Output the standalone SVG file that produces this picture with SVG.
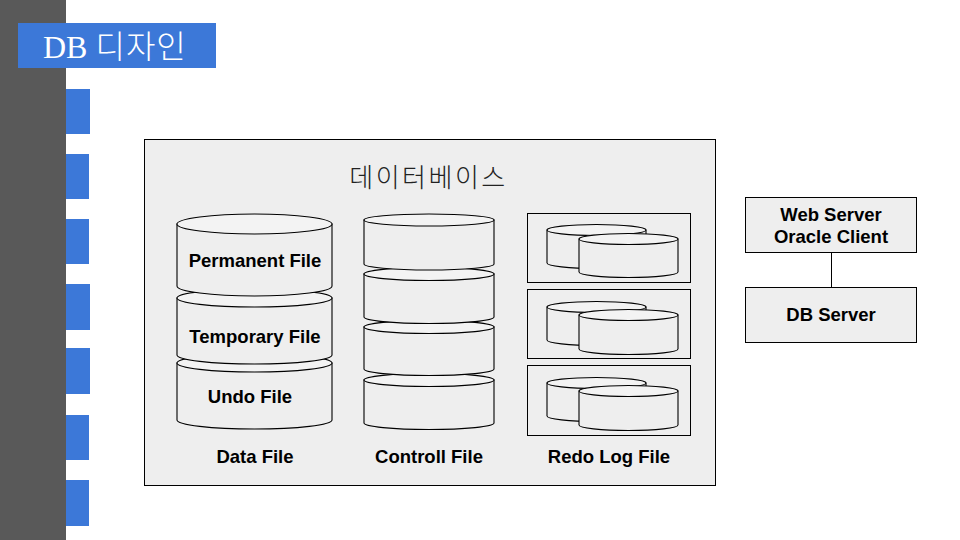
<svg xmlns="http://www.w3.org/2000/svg" width="960" height="540" viewBox="0 0 960 540">
<style>
.bar{fill:#595959}
.tab{fill:#3c78d8}
.box{fill:#eeeeee;stroke:#000;stroke-width:1}
.body{fill:#eeeeee;stroke:#000;stroke-width:1.1}
.lid{fill:#f3f3f3;stroke:#000;stroke-width:1.1}
.lbl{font-family:"Liberation Sans",Arial,sans-serif;font-weight:bold;font-size:18.5px;fill:#000;text-anchor:middle}
.conn{stroke:#000;stroke-width:1;fill:none}
</style>
<rect width="960" height="540" fill="#fff"/>
<g id="sidebar">
<rect class="bar" x="0" y="0" width="66" height="540"/>
<rect class="tab" x="66" y="89" width="24" height="45"/>
<rect class="tab" x="66" y="154" width="23" height="45"/>
<rect class="tab" x="66" y="219" width="23" height="45"/>
<rect class="tab" x="66" y="284" width="24" height="46"/>
<rect class="tab" x="66" y="348" width="24" height="46"/>
<rect class="tab" x="66" y="415" width="23" height="45"/>
<rect class="tab" x="66" y="480" width="23" height="46"/>
</g>
<g id="title">
<rect class="tab" x="18" y="23" width="198" height="45"/>
<text x="43" y="58" fill="#fff" font-size="32"><tspan font-family="'Liberation Serif',serif">DB </tspan><tspan font-family="'Noto Sans CJK KR',sans-serif" font-weight="300" letter-spacing="1">디자인</tspan></text>
</g>
<g id="database">
<rect class="box" x="144.5" y="139.5" width="571" height="346"/>
<text x="428.5" y="187" font-family="'Noto Sans CJK KR',sans-serif" font-weight="300" font-size="26" letter-spacing="2.5" fill="#222" text-anchor="middle">데이터베이스</text>
</g>
<g id="data-file">
<g id="undo-file">
<path class="body" d="M177,363 V420 A77.5,9 0 0 0 332,420 V363 Z"/>
<ellipse class="lid" cx="254.5" cy="363" rx="77.5" ry="9"/>
<text class="lbl" x="250" y="403">Undo File</text>
</g>
<g id="temporary-file">
<path class="body" d="M177,298 V355 A77.5,9 0 0 0 332,355 V298 Z"/>
<ellipse class="lid" cx="254.5" cy="298" rx="77.5" ry="9"/>
<text class="lbl" x="255" y="343">Temporary File</text>
</g>
<g id="permanent-file">
<path class="body" d="M177,224 V286 A77.5,10 0 0 0 332,286 V224 Z"/>
<ellipse class="lid" cx="254.5" cy="224" rx="77.5" ry="10"/>
<text class="lbl" x="255" y="267">Permanent File</text>
</g>
<text class="lbl" x="255" y="463">Data File</text>
</g>
<g id="control-file">
<g id="ctl-4">
<path class="body" d="M364,380 V423 A65,6.5 0 0 0 494,423 V380 Z"/>
<ellipse class="lid" cx="429" cy="380" rx="65" ry="6.5"/>
</g>
<g id="ctl-3">
<path class="body" d="M364,327 V369 A65,6.5 0 0 0 494,369 V327 Z"/>
<ellipse class="lid" cx="429" cy="327" rx="65" ry="6.5"/>
</g>
<g id="ctl-2">
<path class="body" d="M364,274 V317 A65,6.5 0 0 0 494,317 V274 Z"/>
<ellipse class="lid" cx="429" cy="274" rx="65" ry="6.5"/>
</g>
<g id="ctl-1">
<path class="body" d="M364,220 V264 A65,6 0 0 0 494,264 V220 Z"/>
<ellipse class="lid" cx="429" cy="220" rx="65" ry="6"/>
</g>
<text class="lbl" x="429" y="463">Controll File</text>
</g>
<g id="redo-log-file">
<g id="redo-1">
<rect class="box" x="527.5" y="213.5" width="163" height="69"/>
<path class="body" d="M547,230 V263 A49.5,5.5 0 0 0 646,263 V230 Z"/>
<ellipse class="lid" cx="596.5" cy="230" rx="49.5" ry="5.5"/>
<path class="body" d="M579,239 V272 A49.5,5.5 0 0 0 678,272 V239 Z"/>
<ellipse class="lid" cx="628.5" cy="239" rx="49.5" ry="5.5"/>
</g>
<g id="redo-2">
<rect class="box" x="527.5" y="289.5" width="163" height="69"/>
<path class="body" d="M547,307 V340 A49.5,5.5 0 0 0 646,340 V307 Z"/>
<ellipse class="lid" cx="596.5" cy="307" rx="49.5" ry="5.5"/>
<path class="body" d="M579,315 V349 A49.5,5.5 0 0 0 678,349 V315 Z"/>
<ellipse class="lid" cx="628.5" cy="315" rx="49.5" ry="5.5"/>
</g>
<g id="redo-3">
<rect class="box" x="527.5" y="365.5" width="163" height="70"/>
<path class="body" d="M547,383 V416 A49.5,5.5 0 0 0 646,416 V383 Z"/>
<ellipse class="lid" cx="596.5" cy="383" rx="49.5" ry="5.5"/>
<path class="body" d="M579,391 V425 A49.5,5.5 0 0 0 678,425 V391 Z"/>
<ellipse class="lid" cx="628.5" cy="391" rx="49.5" ry="5.5"/>
</g>
<text class="lbl" x="609" y="463">Redo Log File</text>
</g>
<g id="connectors">
<line class="conn" x1="831.5" y1="253" x2="831.5" y2="287"/>
</g>
<g id="web-server">
<rect class="box" x="745.5" y="197.5" width="171" height="55"/>
<text class="lbl" x="831" y="221">Web Server</text>
<text class="lbl" x="831" y="243">Oracle Client</text>
</g>
<g id="db-server">
<rect class="box" x="745.5" y="287.5" width="171" height="55"/>
<text class="lbl" x="831" y="321">DB Server</text>
</g>
</svg>
